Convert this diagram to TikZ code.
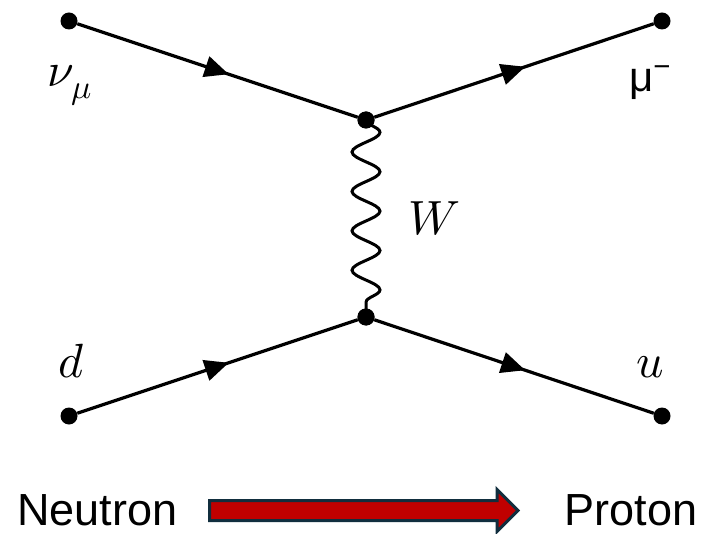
\documentclass[tikz,border=0pt]{standalone}
\usepackage{fontspec}
\usepackage{unicode-math}
\setmainfont{Liberation Sans}
\setmathfont{Latin Modern Math}
\usetikzlibrary{arrows.meta,decorations.markings,decorations.pathmorphing}
\definecolor{arrowred}{HTML}{C00000}
\definecolor{arrowedge}{HTML}{112E3E}
\begin{document}
\begin{tikzpicture}[x=1pt,y=-1pt,
  dot/.style={circle,fill=black,inner sep=0pt,minimum size=17pt},
  fermion/.style={line width=3.2pt,postaction={decorate},
    decoration={markings,mark=at position 0.54 with {\arrow{Triangle[length=24pt,width=21pt]}}}},
  boson/.style={line width=3pt,decorate,decoration={snake,amplitude=14pt,segment length=39.4pt}},
  mathlabel/.style={font=\fontsize{48}{58}\selectfont,anchor=base,inner sep=0pt},
  textlabel/.style={font=\fontsize{45}{54}\selectfont,anchor=base,inner sep=0pt},
  blockarrow/.style={fill=arrowred,draw=arrowedge,line width=3pt,line join=miter}]
\useasboundingbox (0,0) rectangle (703,534);
% external points and vertices
\node[dot] (a) at (69,21) {};
\node[dot] (b) at (662,21) {};
\node[dot] (c) at (69,416) {};
\node[dot] (e) at (662,416) {};
\node[dot] (v1) at (366,120) {};
\node[dot] (v2) at (366,317) {};
% propagators
\draw[fermion] (a) -- (v1);
\draw[fermion] (v1) -- (b);
\draw[fermion] (c) -- (v2);
\draw[fermion] (v2) -- (e);
\draw[boson] (v1.center) -- (v2.center);
\node[dot] at (v1) {};
\node[dot] at (v2) {};
% labels
\node[mathlabel] (lnu) at (70,87) {$\nu_\mu$};
\node[textlabel,font=\fontsize{42}{50}\selectfont] (lmu) at (650,92) {μ\textsuperscript{−}};
\node[mathlabel] (lw) at (434,235) {$W$};
\node[mathlabel] (ld) at (72,377) {$d$};
\node[mathlabel] (lu) at (650,377) {$u$};
\node[textlabel] (neutron) at (97.5,525) {Neutron};
\node[textlabel] (proton) at (631,525) {Proton};
% block arrow
\draw[blockarrow] (209.5,500.5) -- (497,500.5) -- (497,489.5) -- (518,510.5)
  -- (497,531.5) -- (497,520.5) -- (209.5,520.5) -- cycle;
\end{tikzpicture}
\end{document}
